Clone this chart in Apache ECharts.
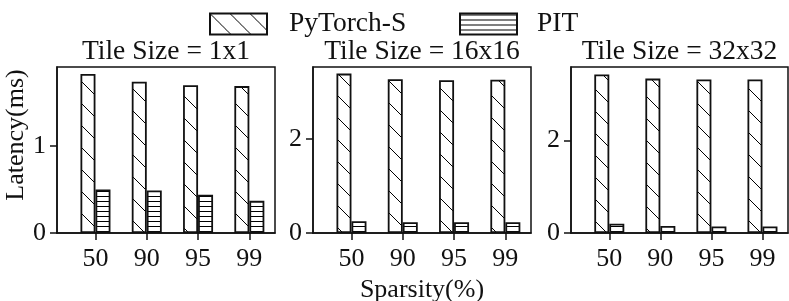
<!DOCTYPE html>
<html><head><meta charset="utf-8">
<script src="https://cdn.jsdelivr.net/npm/echarts@6/dist/echarts.min.js"></script>
<style>html,body{margin:0;padding:0;background:#fff}#c{width:789px;height:301px}</style>
</head><body><div id="c"></div>
<script>
const categories = ['50', '90', '95', '99'];
const panelTitles = ['Tile Size = 1x1', 'Tile Size = 16x16', 'Tile Size = 32x32'];
const seriesNames = ['PyTorch-S', 'PIT'];
const pytorch1 = [1.83, 1.74, 1.70, 1.69];
const pit1 = [0.50, 0.49, 0.44, 0.37];
const pytorch16 = [3.38, 3.26, 3.24, 3.25];
const pit16 = [0.25, 0.23, 0.23, 0.23];
const pytorch32 = [3.42, 3.33, 3.31, 3.31];
const pit32 = [0.20, 0.15, 0.14, 0.14];
const yMax = [1.91, 3.52, 3.58];
const yInterval = [1, 2, 2];

function diagPattern(s) {
  const c = document.createElement('canvas'); c.width = s; c.height = s;
  const g = c.getContext('2d'); g.fillStyle = '#fff'; g.fillRect(0, 0, s, s);
  g.strokeStyle = '#000'; g.lineWidth = 1;
  for (const o of [-s, 0, s]) { g.beginPath(); g.moveTo(o - 1, -1); g.lineTo(o + s + 1, s + 1); g.stroke(); }
  return c;
}
function horizPattern(s) {
  const c = document.createElement('canvas'); c.width = s; c.height = s;
  const g = c.getContext('2d'); g.fillStyle = '#fff'; g.fillRect(0, 0, s, s);
  g.fillStyle = '#000'; g.fillRect(0, 1, s, 1);
  return c;
}
const diag = { image: diagPattern(22), repeat: 'repeat' };
const horiz = { image: horizPattern(5), repeat: 'repeat' };
const diagLegend = { image: diagPattern(20), repeat: 'repeat' };
const horizLegend = { image: horizPattern(5), repeat: 'repeat' };

const FONT = 'Liberation Serif';
const FS = 26;
const FS2 = 27.5;
const TC = '#111';
const grids = [
  { left: 57, top: 67, width: 218, height: 166 },
  { left: 313, top: 67, width: 218, height: 166 },
  { left: 571, top: 67, width: 217, height: 166 }
];
const data = [[pytorch1, pit1], [pytorch16, pit16], [pytorch32, pit32]];
const idx = categories.map((_, i) => i);

const option = {
  animation: false,
  textStyle: { fontFamily: FONT },
  title: grids.map((g, i) => ({
    text: panelTitles[i], left: g.left + g.width / 2, top: 38, textAlign: 'center',
    textStyle: { fontFamily: FONT, fontSize: FS2, fontWeight: 'normal', color: TC }, padding: 0
  })),
  legend: [
    { data: [{ name: seriesNames[0], itemStyle: { color: diagLegend } }], left: 209, top: 10, itemWidth: 57, itemHeight: 21, padding: 0, icon: 'rect',
      textStyle: { fontFamily: FONT, fontSize: FS2, color: TC, padding: [0, 0, 0, 17] }, selectedMode: false },
    { data: [{ name: seriesNames[1], itemStyle: { color: horizLegend } }], left: 459, top: 10, itemWidth: 57, itemHeight: 21, padding: 0, icon: 'rect',
      textStyle: { fontFamily: FONT, fontSize: FS2, color: TC, padding: [0, 0, 0, 15] }, selectedMode: false }
  ],
  grid: grids.map(g => Object.assign({ show: true, borderColor: '#111', borderWidth: 1.5, backgroundColor: 'transparent',
    containLabel: false, outerBoundsMode: 'none' }, g)),
  xAxis: grids.map((g, i) => ({
    type: 'value', gridIndex: i, min: -0.75, max: 3.5,
    axisLine: { show: true, onZero: false, lineStyle: { color: '#111', width: 1.5 } },
    axisTick: { show: true, length: 7, lineStyle: { color: '#111', width: 1.5 }, customValues: idx },
    axisLabel: { customValues: idx, formatter: v => categories[Math.round(v)], fontFamily: FONT, fontSize: FS, color: TC, margin: 13 },
    splitLine: { show: false },
    name: i === 1 ? 'Sparsity(%)' : '', nameLocation: 'middle', nameGap: 44,
    nameTextStyle: { fontFamily: FONT, fontSize: FS, color: TC }
  })),
  yAxis: grids.map((g, i) => ({
    type: 'value', gridIndex: i, min: 0, max: yMax[i], interval: yInterval[i],
    axisLine: { show: true, onZero: false, lineStyle: { color: '#111', width: 1.5 } },
    axisTick: { show: true, length: 7, lineStyle: { color: '#111', width: 1.5 } },
    axisLabel: { fontFamily: FONT, fontSize: FS, color: TC, margin: 11, showMaxLabel: false },
    splitLine: { show: false },
    name: i === 0 ? 'Latency(ms)' : '', nameLocation: 'middle', nameGap: 25, nameRotate: 90,
    nameTextStyle: { fontFamily: FONT, fontSize: FS, color: TC, padding: [0, 0, 0, 30] }
  })),
  series: []
};
data.forEach((pair, i) => {
  pair.forEach((vals, k) => {
    option.series.push({
      type: 'bar', name: seriesNames[k], xAxisIndex: i, yAxisIndex: i,
      data: vals.map((v, j) => [idx[j], v]),
      barWidth: 15, barGap: '0%',
      itemStyle: { color: k === 0 ? diag : horiz, borderColor: '#111', borderWidth: 1.8 }
    });
  });
});
echarts.init(document.getElementById('c')).setOption(option);
</script></body></html>
